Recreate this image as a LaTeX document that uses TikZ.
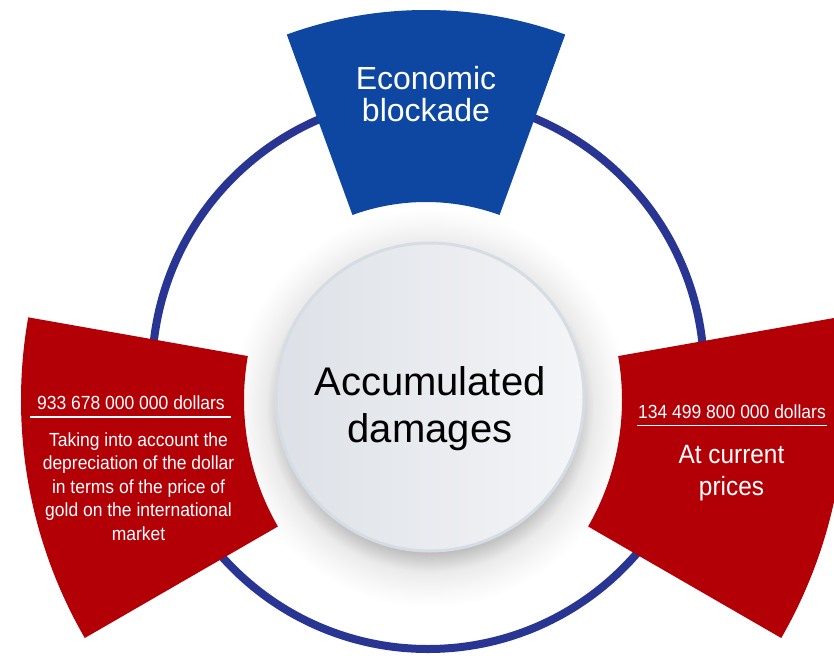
\documentclass[tikz,border=0pt]{standalone}
\usepackage{fontspec}
\setmainfont{Liberation Sans}
\newfontfamily\narrowfont[FakeStretch=0.92]{Liberation Sans}
\usetikzlibrary{calc}

\definecolor{ringblue}{HTML}{283593}
\definecolor{fanblue}{HTML}{0D47A1}
\definecolor{fanred}{HTML}{B20006}
\definecolor{hubleft}{HTML}{DDE1E7}
\definecolor{hubright}{HTML}{F4F5F7}
\definecolor{hubrim}{HTML}{D6DCE4}
\pgfdeclareradialshading{hubhalo}{\pgfpointorigin}{color(0bp)=(black!26); color(18bp)=(black!26);
  color(20.5bp)=(black!8); color(23bp)=(black!3); color(25bp)=(white)}

\begin{document}
\begin{tikzpicture}[x=1pt, y=-1pt,
    every node/.style={inner sep=0pt, outer sep=0pt},
    ring/.style={draw=ringblue, line width=8pt},
    bluefan/.style={fill=fanblue},
    redfan/.style={fill=fanred},
    hub/.style={circle, minimum size=308pt, draw=hubrim, line width=3pt,
      left color=hubleft, right color=hubright},
    fanlabel/.style={text=white, align=center},
    rule/.style={draw=white, line width=1.3pt}]
          \useasboundingbox (0,0) rectangle (834,655);
          \fill[white] (0,0) rectangle (834,655);

          % Ring and halo
          \draw[ring] (428,373) circle[radius=276];
          \shade[shading=hubhalo] (430,408) circle[radius=200];

          % Fans
          \fill[bluefan] (426,417) ++(250:407) arc[start angle=250, end angle=290, radius=407]
            -- ($(426,417)+(290:215)$) arc[start angle=290, end angle=250, radius=215] -- cycle;
          \fill[redfan] (497,400) ++(190:476) arc[start angle=190, end angle=150, radius=476]
            -- ($(497,400)+(150:253)$) arc[start angle=150, end angle=190, radius=253] -- cycle;
          \fill[redfan] (369,400) ++(-10:476) arc[start angle=-10, end angle=30, radius=476]
            -- ($(369,400)+(30:253)$) arc[start angle=30, end angle=-10, radius=253] -- cycle;

          % Hub
          \node[hub] (hub) at (430,397) {};
          \node[anchor=base, align=center, font=\fontsize{40}{47}\selectfont] (damages)
            at (430,442.7) {Accumulated\\damages};

          % Labels
          \node[fanlabel, anchor=base, font=\fontsize{32}{32.4}\selectfont] (blockade)
            at (426,121.7) {Economic\\blockade};

          \node[fanlabel, anchor=base, font=\narrowfont\fontsize{19}{23.5}\selectfont] (goldsum)
            at (131,409) {933 678 000 000 dollars};
          \draw[rule] (30,417) -- (231,417);
          \node[fanlabel, anchor=base, font=\narrowfont\fontsize{19}{23.5}\selectfont] (gold)
            at (138.5,540) {Taking into account the\\depreciation of the dollar\\in terms of the price of\\gold on the international\\market};

          \node[fanlabel, anchor=base, font=\narrowfont\fontsize{19}{23.5}\selectfont] (currentsum)
            at (732,418) {134 499 800 000 dollars};
          \draw[rule] (637,425.7) -- (827,425.7);
          \node[fanlabel, anchor=base, font=\narrowfont\fontsize{26.5}{31.7}\selectfont] (current)
            at (731.5,495) {At current\\prices};
      \end{tikzpicture}
\end{document}
